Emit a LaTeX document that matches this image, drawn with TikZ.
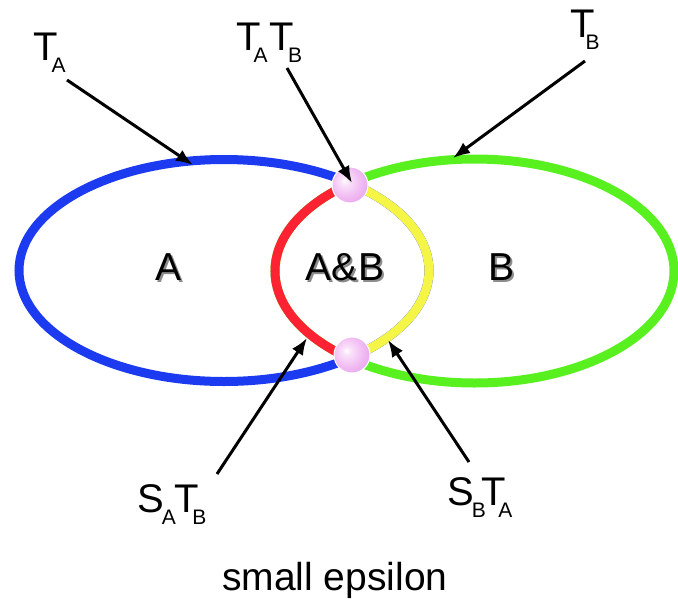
\documentclass[tikz,border=0pt]{standalone}
\usepackage{fontspec}
\setmainfont{Liberation Sans}
\usetikzlibrary{arrows.meta}
\definecolor{cblue}{RGB}{28,58,240}
\definecolor{cgreen}{RGB}{88,240,30}
\definecolor{cred}{RGB}{255,34,50}
\definecolor{cyellow}{RGB}{245,245,70}
\definecolor{pkA}{RGB}{250,225,250}
\definecolor{pkB}{RGB}{240,185,242}
\definecolor{pkC}{RGB}{225,150,235}
\definecolor{pkD}{RGB}{205,115,225}
\pgfdeclareradialshading{pinkball}{\pgfpoint{-8bp}{6bp}}{%
  color(0bp)=(white); color(6bp)=(pkA); color(22bp)=(pkB);
  color(42bp)=(pkC); color(60bp)=(pkD); color(80bp)=(pkD)}
\newcommand{\subx}[1]{\raisebox{-12pt}{\fontsize{21}{21}\selectfont #1}}
\newcommand{\shadowed}[1]{\makebox[0pt][l]{\kern2pt\raisebox{-2pt}{\color{black!45}#1}}#1}
\begin{document}
\begin{tikzpicture}[x=1pt,y=-1pt,
  ring/.style={line width=9pt},
  ptr/.style={line width=3pt,-{Latex[length=17pt,width=13pt]}},
  lbl/.style={inner sep=0pt,anchor=base west,font=\fontsize{40}{40}\selectfont},
  setlbl/.style={inner sep=0pt,anchor=base,font=\fontsize{39}{39}\selectfont},
  ballst/.style={circle,minimum size=36pt,inner sep=0pt,shading=pinkball,draw=white,line width=1pt}
]
\useasboundingbox (0,0) rectangle (678,603);
% ellipses
\draw[ring,cblue] (224,270.5) ellipse [x radius=205,y radius=111];
\draw[ring,cgreen] (474.5,271) ellipse [x radius=199.5,y radius=112];
\begin{scope}
  \clip (224,270.5) ellipse [x radius=205,y radius=111];
  \draw[ring,cred] (474.5,271) ellipse [x radius=199.5,y radius=112];
\end{scope}
\begin{scope}
  \clip (474.5,271) ellipse [x radius=199.5,y radius=112];
  \draw[ring,cyellow] (224,270.5) ellipse [x radius=205,y radius=111];
\end{scope}
% set labels with shadow
\node[setlbl] (A) at (169,280) {\shadowed{A}};
\node[setlbl] (AB) at (345,280) {\shadowed{A\&B}};
\node[setlbl] (B) at (502,280) {\shadowed{B}};
% intersection balls
\node[ballst] (top) at (350,185) {};
\node[ballst] (bot) at (352,355) {};
% labels
\node[lbl] (TA) at (33,60) {T\kern-6pt\subx{A}};
\node[lbl] (TATB) at (236,50) {T\kern-7pt\subx{A}\kern2pt T\kern-6pt\subx{B}};
\node[lbl] (TB) at (570,37) {T\kern-9pt\subx{B}};
\node[lbl] (SATB) at (137,512) {S\kern-2pt\subx{A}\kern-1pt T\kern-7pt\subx{B}};
\node[lbl] (SBTA) at (447,505) {S\kern-2pt\subx{B}\kern-4pt T\kern-8pt\subx{A}};
\node[inner sep=0pt,anchor=base west,font=\fontsize{39}{39}\selectfont] (eps) at (222,590) {small epsilon};
% arrow endpoints
\coordinate (tA1) at (67,80);   \coordinate (tA2) at (193,165);
\coordinate (tAB1) at (287,68); \coordinate (tAB2) at (352,183);
\coordinate (tB1) at (585,61);  \coordinate (tB2) at (453,158);
\coordinate (sA1) at (217,474); \coordinate (sA2) at (307,338);
\coordinate (sB1) at (469,462); \coordinate (sB2) at (388,340);
\draw[ptr] (tA1) -- (tA2);
\draw[ptr] (tAB1) -- (tAB2);
\draw[ptr] (tB1) -- (tB2);
\draw[ptr] (sA1) -- (sA2);
\draw[ptr] (sB1) -- (sB2);
\end{tikzpicture}
\end{document}
